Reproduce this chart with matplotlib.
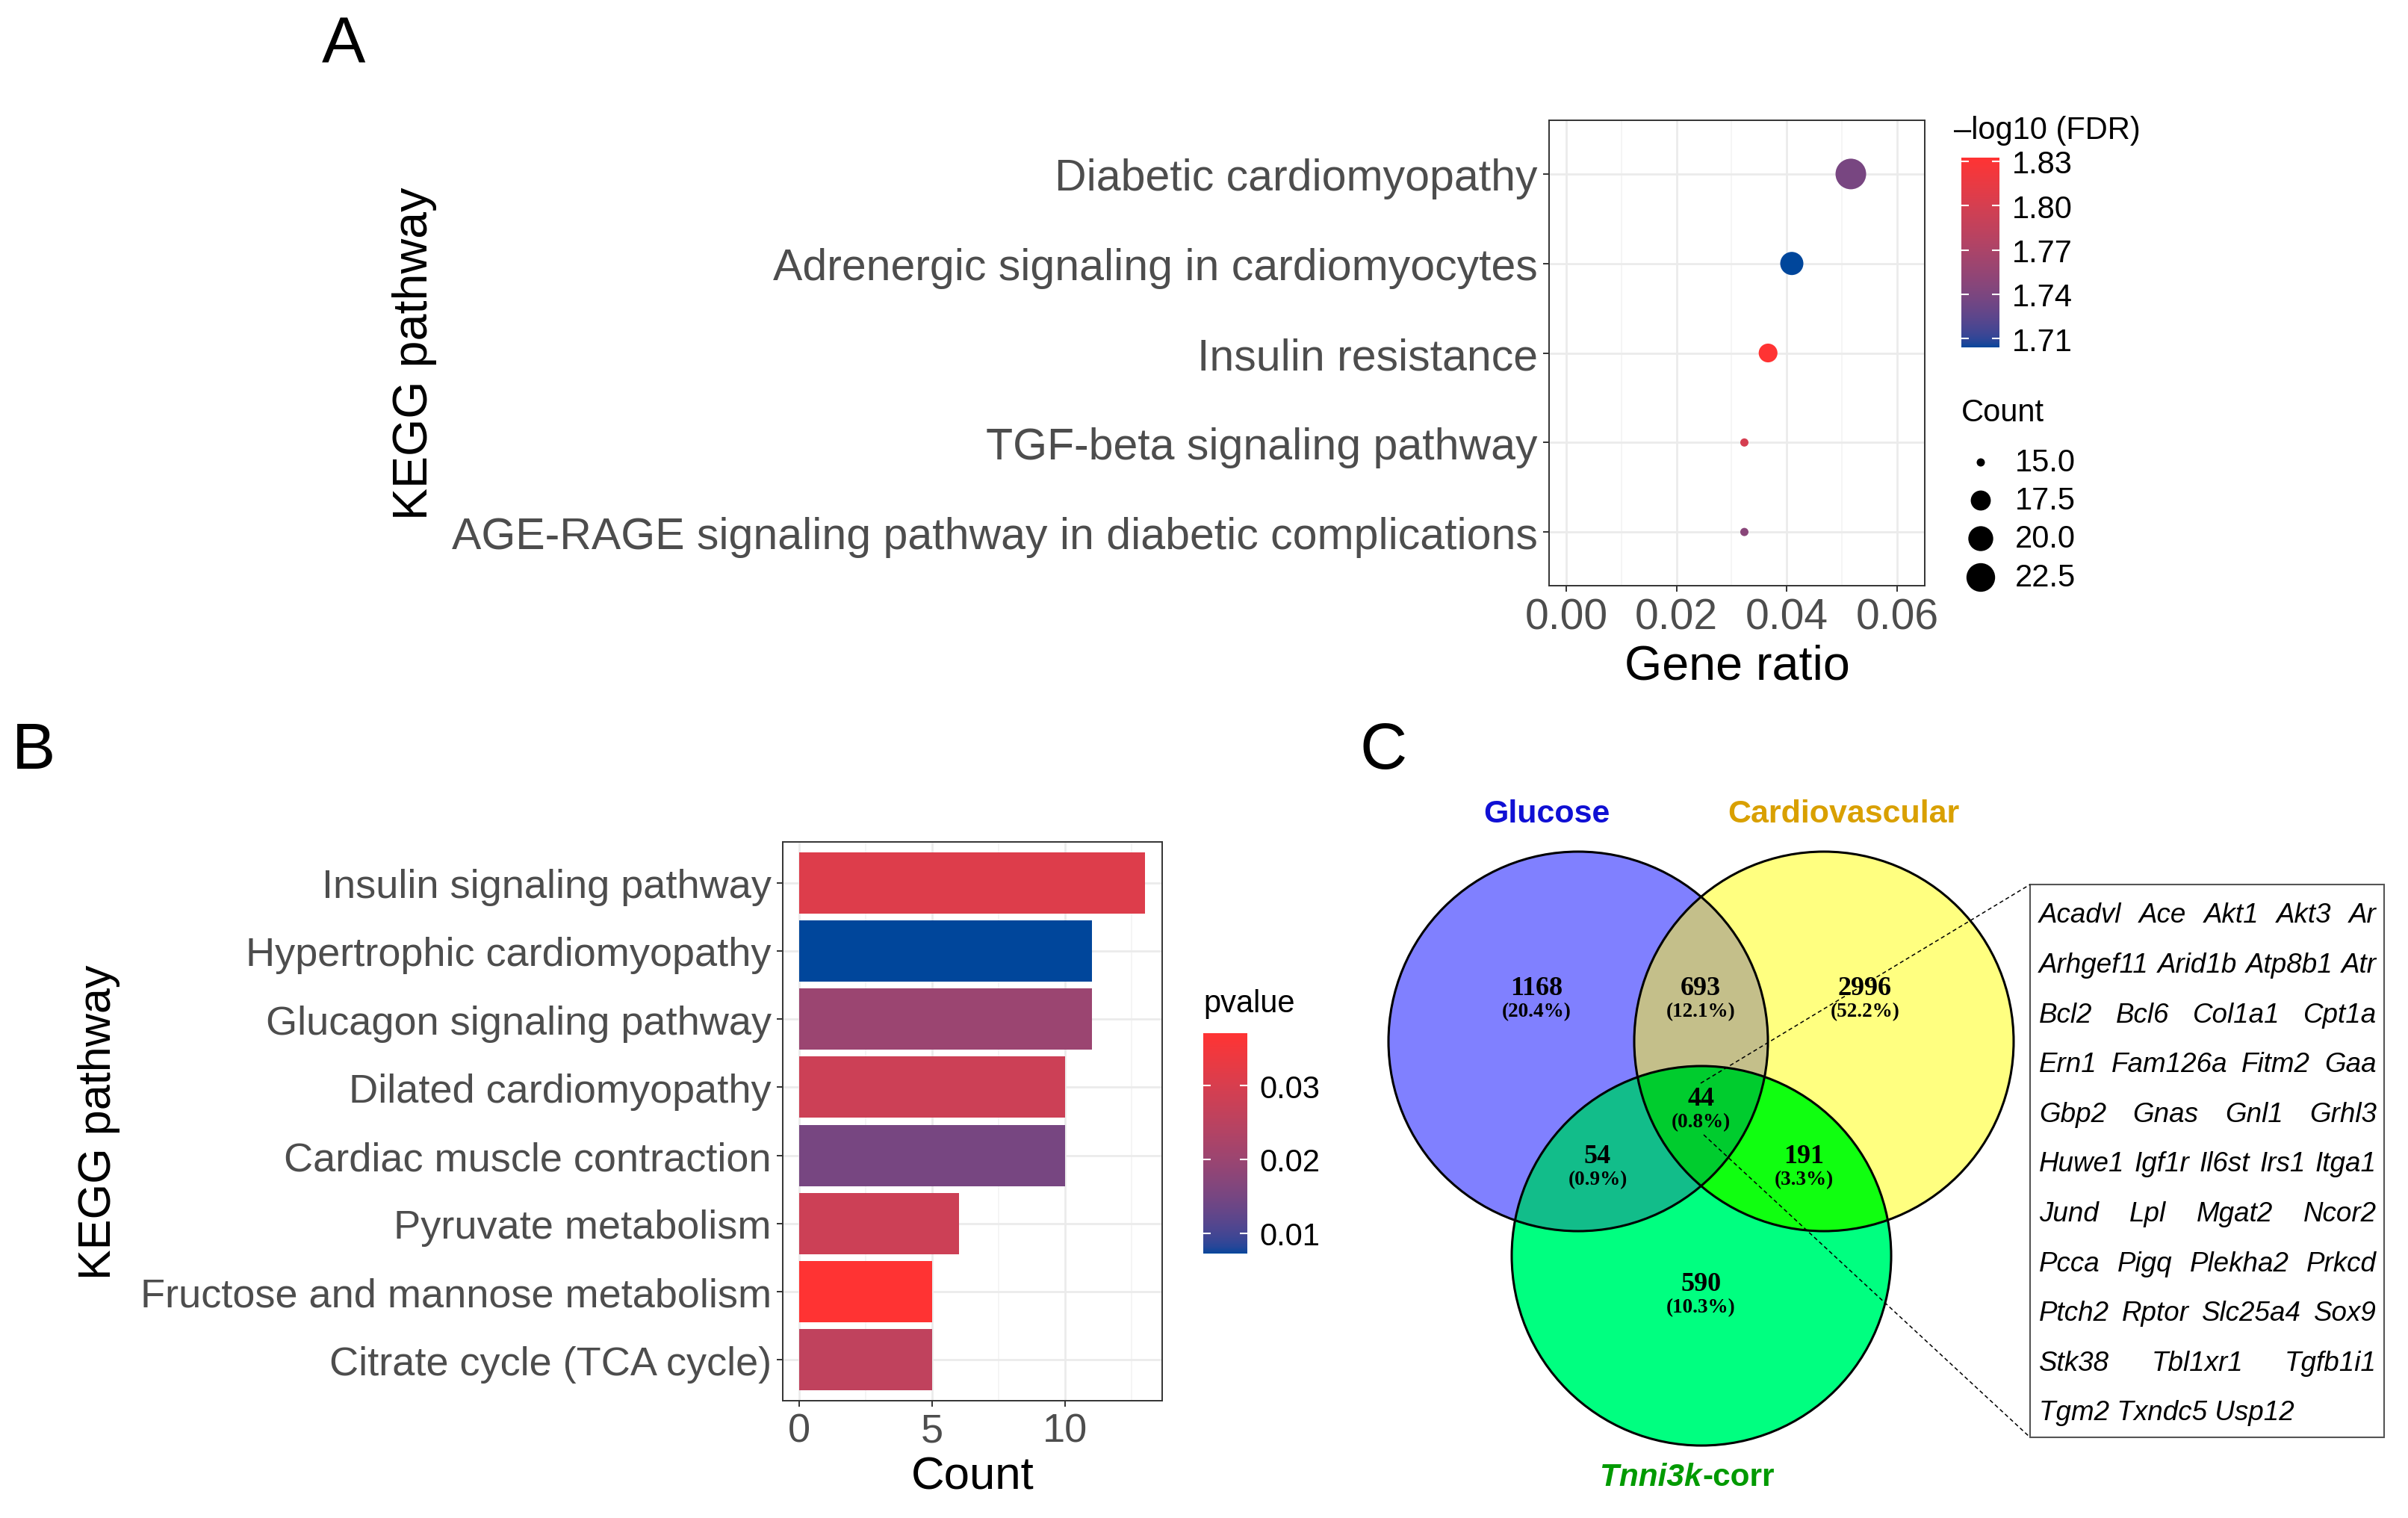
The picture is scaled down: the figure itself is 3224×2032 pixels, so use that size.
import numpy as np
import matplotlib
matplotlib.use("Agg")
import matplotlib.pyplot as plt
from matplotlib.colors import ListedColormap, Normalize, to_rgb
from matplotlib.patches import Circle, Rectangle

plt.rcParams['font.family'] = ['Liberation Sans', 'DejaVu Sans']

#%%
# ---- data ----
# A: KEGG dot plot
kegg_a = ["Diabetic cardiomyopathy",
          "Adrenergic signaling in cardiomyocytes",
          "Insulin resistance",
          "TGF-beta signaling pathway",
          "AGE-RAGE signaling pathway in diabetic complications"]
gene_ratio_a = [0.0516, 0.0409, 0.0366, 0.0323, 0.0323]
count_a = [24, 19, 17, 15, 15]
fdr_a = [1.738, 1.704, 1.8325, 1.800, 1.748]   # -log10(FDR)
fdr_ticks = [1.71, 1.74, 1.77, 1.80, 1.83]
count_ticks = [15.0, 17.5, 20.0, 22.5]
ratio_ticks = [0.00, 0.02, 0.04, 0.06]

# B: KEGG bar plot
kegg_b = ["Insulin signaling pathway",
          "Hypertrophic cardiomyopathy",
          "Glucagon signaling pathway",
          "Dilated cardiomyopathy",
          "Cardiac muscle contraction",
          "Pyruvate metabolism",
          "Fructose and mannose metabolism",
          "Citrate cycle (TCA cycle)"]
count_b = [13, 11, 11, 10, 10, 6, 5, 5]
pvalue_b = [0.031, 0.00725, 0.020, 0.028, 0.015, 0.028, 0.0371, 0.026]
pvalue_ticks = [0.01, 0.02, 0.03]
count_b_ticks = [0, 5, 10]

# C: Venn diagram
venn_names = ["Glucose", "Cardiovascular", "Tnni3k"]
venn_regions = ["G", "C", "T", "GC", "GT", "CT", "GCT"]
venn_counts = [1168, 2996, 590, 693, 54, 191, 44]
gene_rows = ["Acadvl Ace Akt1 Akt3 Ar",
             "Arhgef11 Arid1b Atp8b1 Atr",
             "Bcl2 Bcl6 Col1a1 Cpt1a",
             "Ern1 Fam126a Fitm2 Gaa",
             "Gbp2 Gnas Gnl1 Grhl3",
             "Huwe1 Igf1r Il6st Irs1 Itga1",
             "Jund Lpl Mgat2 Ncor2",
             "Pcca Pigq Plekha2 Prkcd",
             "Ptch2 Rptor Slc25a4 Sox9",
             "Stk38 Tbl1xr1 Tgfb1i1",
             "Tgm2 Txndc5 Usp12"]

#%%
# gradient in Lab space, like ggplot's scale_*_gradient
M = np.array([[0.4124, 0.3576, 0.1805],
              [0.2126, 0.7152, 0.0722],
              [0.0193, 0.1192, 0.9505]])
WHITE = np.array([0.95047, 1.0, 1.08883])

def to_lab(rgb):
    c = np.asarray(rgb, float)
    lin = np.where(c <= 0.04045, c / 12.92, ((c + 0.055) / 1.055) ** 2.4)
    xyz = M @ lin / WHITE
    f = np.where(xyz > (6 / 29) ** 3, np.cbrt(xyz), xyz / (3 * (6 / 29) ** 2) + 4 / 29)
    return np.array([116 * f[1] - 16, 500 * (f[0] - f[1]), 200 * (f[1] - f[2])])

def from_lab(lab):
    fy = (lab[0] + 16) / 116
    f = np.array([fy + lab[1] / 500, fy, fy - lab[2] / 200])
    xyz = np.where(f > 6 / 29, f ** 3, 3 * (6 / 29) ** 2 * (f - 4 / 29)) * WHITE
    lin = np.clip(np.linalg.solve(M, xyz), 0, 1)
    c = np.where(lin <= 0.0031308, 12.92 * lin, 1.055 * lin ** (1 / 2.4) - 0.055)
    return np.clip(c, 0, 1)

def lab_cmap(lo, hi, n=256):
    a, b = to_lab(to_rgb(lo)), to_lab(to_rgb(hi))
    return ListedColormap([from_lab(a + (b - a) * t) for t in np.linspace(0, 1, n)])

cmap = lab_cmap("#00469B", "#FF3333")

W, H, DPI = 3224, 2033, 100
fig = plt.figure(figsize=(W / DPI, H / DPI), dpi=DPI)

tick_gray = "#4D4D4D"
grid_major = "#EBEBEB"
grid_minor = "#F4F4F4"

def style_axes(ax):
    for s in ax.spines.values():
        s.set_color("#333333")
        s.set_linewidth(1.4)
    ax.set_axisbelow(True)
    ax.grid(True, which="major", color=grid_major, lw=2.0)
    ax.grid(True, which="minor", axis="x", color=grid_minor, lw=1.2)
    ax.tick_params(which="major", length=6, width=1.4, color="#333333", labelcolor=tick_gray)
    ax.tick_params(which="minor", length=0)

def px_size(c, cmin, cmax):
    # ggplot area scale, diameter in px -> points^2
    d = 11 + 30 * np.sqrt((np.asarray(c, float) - cmin) / (cmax - cmin))
    return (d * 72 / DPI) ** 2

#%%
# ---- A ----
axA = fig.add_axes([2074 / W, 1 - 785 / H, 503 / W, 623 / H])
style_axes(axA)
ya = np.arange(len(kegg_a))
normA = Normalize(min(fdr_a), max(fdr_a))
scA = axA.scatter(gene_ratio_a, ya, s=px_size(count_a, min(count_a), max(count_a)),
                  c=fdr_a, cmap=cmap, norm=normA, edgecolors="none", zorder=3)
axA.set_xlim(-0.0031, 0.065)
axA.set_ylim(len(kegg_a) - 0.4, -0.6)
axA.set_xticks(ratio_ticks)
axA.set_xticklabels(["%.2f" % v for v in ratio_ticks])
axA.set_xticks([0.01, 0.03, 0.05], minor=True)
axA.set_yticks(ya)
axA.set_yticklabels(kegg_a)
axA.tick_params(axis="y", labelsize=42.5, pad=5)
axA.tick_params(axis="x", labelsize=41, pad=5)
axA.set_xlabel("Gene ratio", fontsize=46.5, va="center")
axA.xaxis.set_label_coords(0.5, -0.172)
axA.set_ylabel("KEGG pathway", fontsize=46.5, va="center")
axA.yaxis.set_label_coords(-3.02, 0.5)

caxA = fig.add_axes([2626 / W, 1 - 466 / H, 51 / W, 254 / H])
cbA = fig.colorbar(scA, cax=caxA)
cbA.outline.set_visible(False)
cbA.set_ticks(fdr_ticks)
cbA.set_ticklabels(["%.2f" % v for v in fdr_ticks])
caxA.tick_params(direction="in", length=7, width=1.5, color="white",
                 left=True, right=True, labelsize=30, pad=12)

#%%
# ---- B ----
axB = fig.add_axes([1048 / W, 1 - 1876 / H, 508 / W, 748 / H])
style_axes(axB)
yb = np.arange(len(kegg_b))
normB = Normalize(min(pvalue_b), max(pvalue_b))
axB.barh(yb, count_b, height=0.9, color=cmap(normB(pvalue_b)), zorder=3)
axB.set_xlim(-0.62, 13.65)
axB.set_ylim(len(kegg_b) - 0.4, -0.6)
axB.set_xticks(count_b_ticks)
axB.set_xticks([2.5, 7.5, 12.5], minor=True)
axB.set_yticks(yb)
axB.set_yticklabels(kegg_b)
axB.tick_params(axis="both", labelsize=39, pad=5)
axB.set_xlabel("Count", fontsize=44.5, va="center")
axB.xaxis.set_label_coords(0.5, -0.136)
axB.set_ylabel("KEGG pathway", fontsize=44, va="center")
axB.yaxis.set_label_coords(-1.803, 0.5)

caxB = fig.add_axes([1611 / W, 1 - 1679 / H, 59 / W, 295 / H])
smB = plt.cm.ScalarMappable(norm=normB, cmap=cmap)
cbB = fig.colorbar(smB, cax=caxB)
cbB.outline.set_visible(False)
cbB.set_ticks(pvalue_ticks)
cbB.set_ticklabels(["%.2f" % v for v in pvalue_ticks])
caxB.tick_params(direction="in", length=7, width=1.5, color="white",
                 left=True, right=True, labelsize=30, pad=12)

#%%
# ---- overlay in pixel coords: legends, panel letters, Venn ----
ov = fig.add_axes([0, 0, 1, 1])
ov.set_xlim(0, W)
ov.set_ylim(H, 0)
ov.axis("off")

ov.text(2616, 175, "\u2013log10 (FDR)", fontsize=30, va="center", ha="left")
ov.text(2626, 553, "Count", fontsize=30, va="center", ha="left")
leg_y = [620, 671, 722, 774]
ov.scatter([2652] * len(count_ticks), leg_y,
           s=px_size(count_ticks, min(count_a), max(count_a)), c="black", edgecolors="none")
for yy, v in zip(leg_y, count_ticks):
    ov.text(2698, yy, "%.1f" % v, fontsize=30, va="center", ha="left")
ov.text(1611, 1344, "pvalue", fontsize=30, va="center", ha="left")

for lab, x, y in [("A", 460, 62), ("B", 45, 1007), ("C", 1852, 1007)]:
    ov.text(x, y, lab, fontsize=63, ha="center", va="center")

# Venn regions as a raster
cx = {"G": (2113, 1395), "C": (2442, 1395), "T": (2278, 1682)}
r = 254
region_col = {"G": "#8080FF", "C": "#FFFF80", "T": "#00FF80", "GC": "#C4BF8A",
              "GT": "#12BD8A", "CT": "#10FF10", "GCT": "#00CC2E"}
x0, x1, y0, y1 = 1840, 2720, 1120, 1960
X, Y = np.meshgrid(np.arange(x0, x1) + 0.5, np.arange(y0, y1) + 0.5)
inside = {k: (X - v[0]) ** 2 + (Y - v[1]) ** 2 <= r ** 2 for k, v in cx.items()}
img = np.zeros(X.shape + (4,))
for key in venn_regions:
    m = np.ones(X.shape, bool)
    for k in "GCT":
        m &= inside[k] if k in key else ~inside[k]
    img[m] = to_rgb(region_col[key]) + (1.0,)
ov.imshow(img, extent=(x0, x1, y1, y0), interpolation="nearest", aspect="auto", zorder=1)
for k, v in cx.items():
    ov.add_patch(Circle(v, r, fill=False, ec="black", lw=2.2, zorder=2))

total = sum(venn_counts)
label_pos = {"G": (2057, 1324), "GC": (2277, 1324), "C": (2497, 1324), "GCT": (2277, 1472),
             "GT": (2139, 1549), "CT": (2415, 1549), "T": (2277, 1720)}
for key, n in zip(venn_regions, venn_counts):
    x, y = label_pos[key]
    ov.text(x, y, str(n), family="Liberation Serif", weight="bold", fontsize=26,
            ha="center", va="center", zorder=4)
    ov.text(x, y + 31, "(%.1f%%)" % (100.0 * n / total), family="Liberation Serif",
            weight="bold", fontsize=19.5, ha="center", va="center", zorder=4)

ov.text(2071, 1090, venn_names[0], color="#1010D4", weight="bold", fontsize=31,
        ha="center", va="center")
ov.text(2468, 1090, venn_names[1], color="#D9A000", weight="bold", fontsize=31,
        ha="center", va="center")

renderer = fig.canvas.get_renderer()
t1 = ov.text(0, 1978, venn_names[2], color="#009A00", weight="bold", style="italic",
             fontsize=30.5, ha="left", va="center")
t2 = ov.text(0, 1978, "-corr", color="#009A00", weight="bold", fontsize=30.5,
             ha="left", va="center")
w1 = t1.get_window_extent(renderer).width
w2 = t2.get_window_extent(renderer).width
start = 2259 - (w1 + w2) / 2
t1.set_x(start)
t2.set_x(start + w1)

# gene list box
bx0, bx1, by0, by1 = 2718, 3192, 1185, 1925
ov.add_patch(Rectangle((bx0, by0), bx1 - bx0, by1 - by0, fill=False, ec="#555555", lw=1.5))
ov.plot([2277, bx0], [1451, by0], color="black", lw=1.1, ls=(0, (3.5, 2.5)), zorder=5)
ov.plot([2281, bx0], [1520, by1], color="black", lw=1.1, ls=(0, (3.5, 2.5)), zorder=5)

tx0, tx1 = 2730, 3182
for i, row in enumerate(gene_rows):
    y = 1226 + i * 66.6
    words = row.split()
    if i == len(gene_rows) - 1:
        ov.text(tx0, y, row, style="italic", fontsize=26.5, ha="left", va="center")
        continue
    texts = [ov.text(0, y, w, style="italic", fontsize=26.5, ha="left", va="center") for w in words]
    widths = [t.get_window_extent(renderer).width for t in texts]
    gap = (tx1 - tx0 - sum(widths)) / (len(words) - 1)
    x = tx0
    for t, w in zip(texts, widths):
        t.set_x(x)
        x += w + gap

fig.savefig("out.png", dpi=DPI)
